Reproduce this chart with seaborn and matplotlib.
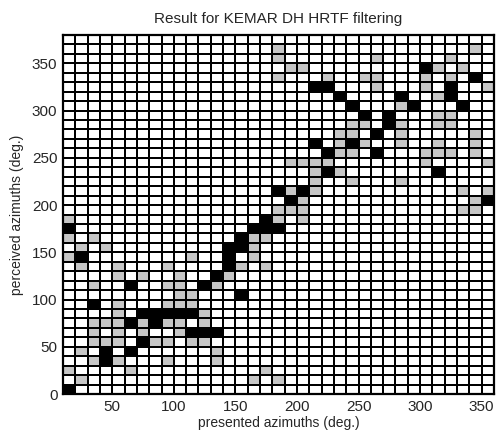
import numpy as np
import pandas as pd
import seaborn as sns
import matplotlib.pyplot as plt
from matplotlib.colors import ListedColormap

# grid cells, 10 deg wide (left / bottom edges)
presented = np.arange(10, 360, 10)
perceived = np.arange(0, 380, 10)

# cells with many answers (black)
black_presented = [10, 40, 40, 60, 70, 110, 120, 130, 60, 80,
                   70, 80, 90, 100, 110, 30, 150, 60, 120, 130,
                   140, 20, 140, 140, 150, 150, 10, 160, 170, 180,
                   170, 190, 350, 180, 200, 220, 310, 220, 260, 210,
                   240, 260, 270, 250, 270, 240, 290, 330, 230, 280,
                   320, 210, 220, 320, 340, 300]
black_perceived = [0, 30, 40, 40, 50, 60, 60, 60, 70, 70,
                   80, 80, 80, 80, 80, 90, 100, 110, 110, 120,
                   130, 140, 140, 150, 150, 160, 170, 170, 170, 170,
                   180, 200, 200, 210, 210, 230, 230, 250, 250, 260,
                   260, 270, 280, 290, 290, 300, 300, 300, 310, 310,
                   310, 320, 320, 320, 330, 340]

# cells with few answers (grey)
gray_presented = [20, 160, 180,
                  10, 60, 170,
                  30, 50, 90, 130,
                  20, 130,
                  30, 40, 50, 80, 90, 110, 120,
                  30, 50, 70, 100,
                  30, 40, 50, 70, 90, 100, 120,
                  50, 120,
                  50, 90, 100, 110,
                  100, 110,
                  30, 90, 100, 130,
                  50, 70, 100, 140,
                  20, 50, 90, 150, 170,
                  10, 110, 160,
                  20, 40, 160,
                  10, 30, 160, 170,
                  10, 180, 200,
                  180, 190, 200, 330, 340,
                  200, 340,
                  190, 210, 330, 350,
                  210, 240, 280,
                  210, 230,
                  190, 200, 210, 220, 300, 350,
                  230, 240, 300, 310, 320, 340,
                  230, 250, 280, 310, 340,
                  230, 240, 280, 340,
                  240, 250, 280, 310, 320,
                  310, 320,
                  280,
                  310,
                  260, 300, 350,
                  180, 220, 250, 260, 300, 320,
                  190, 200, 310, 330,
                  180, 260, 320,
                  180, 340]
gray_perceived = [10, 10, 10,
                  20, 20, 20,
                  30, 30, 30, 30,
                  40, 40,
                  50, 50, 50, 50, 50, 50, 50,
                  60, 60, 60, 60,
                  70, 70, 70, 70, 70, 70, 70,
                  80, 80,
                  90, 90, 90, 90,
                  100, 100,
                  110, 110, 110, 110,
                  120, 120, 120, 120,
                  130, 130, 130, 130, 130,
                  140, 140, 140,
                  150, 150, 150,
                  160, 160, 160, 160,
                  180, 180, 180,
                  190, 190, 190, 190, 190,
                  200, 200,
                  210, 210, 210, 210,
                  220, 220, 220,
                  230, 230,
                  240, 240, 240, 240, 240, 240,
                  250, 250, 250, 250, 250, 250,
                  260, 260, 260, 260, 260,
                  270, 270, 270, 270,
                  280, 280, 280, 280, 280,
                  290, 290,
                  300,
                  310,
                  320, 320, 320,
                  330, 330, 330, 330, 330, 330,
                  340, 340, 340, 340,
                  350, 350, 350,
                  360, 360]

x_ticks = [50, 100, 150, 200, 250, 300, 350]
y_ticks = [0, 50, 100, 150, 200, 250, 300, 350]

grid = pd.DataFrame(0, index=perceived, columns=presented)
for x, y in zip(gray_presented, gray_perceived):
    grid.loc[y, x] = 1
for x, y in zip(black_presented, black_perceived):
    grid.loc[y, x] = 2

sns.set_style('white')
plt.rcParams['font.family'] = ['Liberation Sans', 'DejaVu Sans']

fig = plt.figure(figsize=(5.03, 4.40), dpi=100)
ax = fig.add_axes([63 / 503, 1 - 394 / 440, 431 / 503, 359 / 440])

cmap = ListedColormap(['white', '#c6c6c6', 'black'])
sns.heatmap(grid, ax=ax, cmap=cmap, vmin=0, vmax=2, cbar=False,
            linewidths=1.3, linecolor='black',
            xticklabels=False, yticklabels=False)
ax.invert_yaxis()

ax.set_xticks([(v - 10) / 10 for v in x_ticks])
ax.set_xticklabels(x_ticks, fontsize=11, rotation=0)
ax.set_yticks([v / 10 for v in y_ticks])
ax.set_yticklabels(y_ticks, fontsize=11, rotation=0)
ax.tick_params(length=0, pad=4)

for s in ax.spines.values():
    s.set_visible(True)
    s.set_linewidth(1.6)
    s.set_color('black')

ax.set_xlabel('presented azimuths (deg.)', fontsize=10, labelpad=2)
ax.set_ylabel('perceived azimuths (deg.)', fontsize=10, labelpad=6)
ax.set_title('Result for KEMAR DH HRTF filtering', fontsize=11, pad=9)

fig.savefig('out.png', dpi=100)
